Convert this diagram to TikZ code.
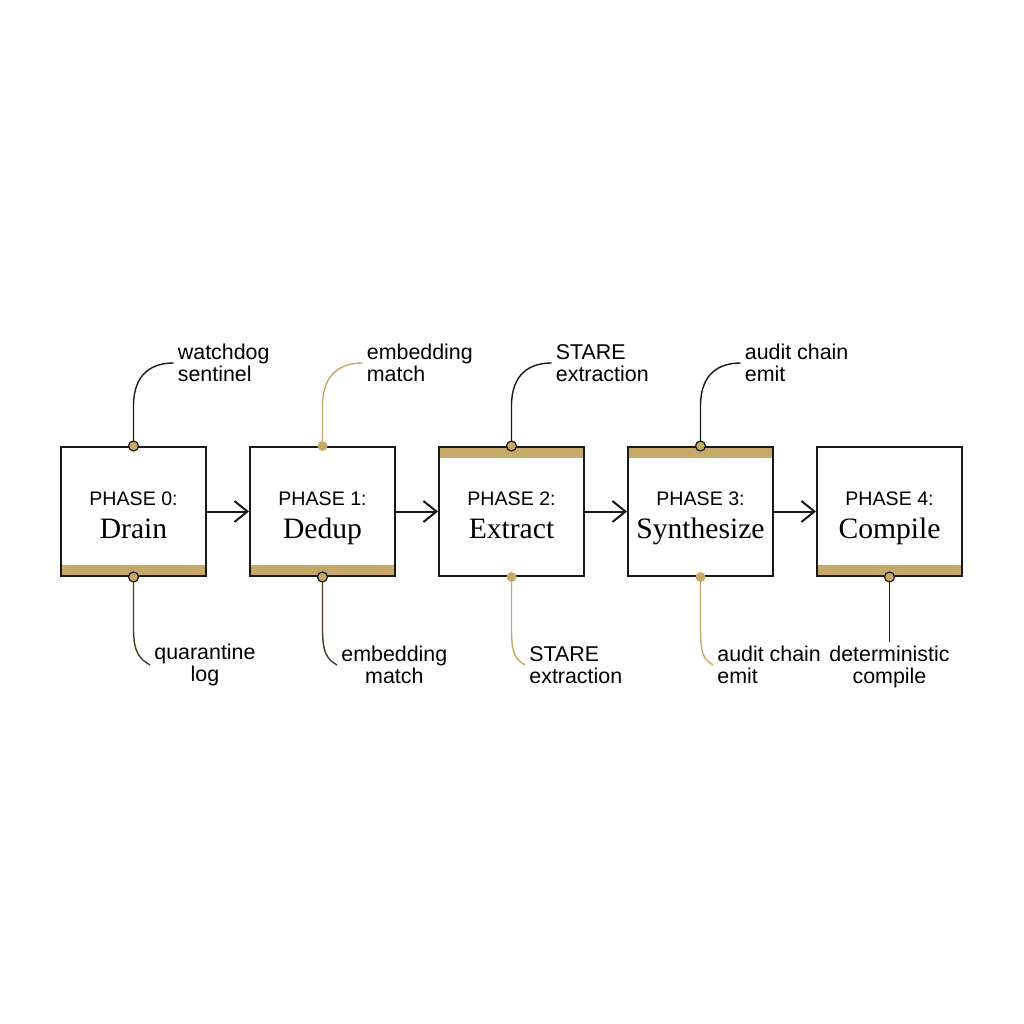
\documentclass[tikz,border=0pt]{standalone}
\usepackage{fontspec}
\setmainfont{Liberation Serif}
\setsansfont{Liberation Sans}
\usetikzlibrary{arrows.meta,calc}
\definecolor{gold}{RGB}{198,168,104}
\definecolor{ink}{RGB}{25,25,25}
\definecolor{dusk}{RGB}{70,60,40}
\newcommand{\phasetxt}[2]{{\sffamily\fontsize{9.8}{12}\selectfont\rule{0pt}{14.5pt}PHASE #1:}\\[4.5pt]{\fontsize{14.8}{15}\selectfont\strut #2}}
\tikzset{
  phase/.style={draw=ink, line width=1pt, fill=white, minimum width=72.5pt, minimum height=64.5pt, align=center, inner sep=0pt},
  topband/.style={path picture={\fill[gold] (path picture bounding box.north west) rectangle ([yshift=-5.5pt]path picture bounding box.north east);}},
  botband/.style={path picture={\fill[gold] (path picture bounding box.south west) rectangle ([yshift=5.5pt]path picture bounding box.south east);}},
  ringdot/.style={circle, draw=ink, fill=gold, line width=0.6pt, minimum size=5pt, inner sep=0pt},
  golddot/.style={circle, fill=gold, minimum size=5pt, inner sep=0pt},
  note/.style={font=\sffamily\fontsize{10.7}{11}\selectfont, inner sep=2pt},
  lead/.style={line width=0.7pt},
  arr/.style={line width=1pt, draw=ink, -{Straight Barb[length=6.5pt,width=10.5pt,line width=1pt]}}
}
\begin{document}
\begin{tikzpicture}[x=0.5pt, y=-0.5pt]
\useasboundingbox (0,0) rectangle (1024,1024);
% phase boxes
\node[phase,topband,botband] (b0) at (133.5,511.5) {\phasetxt{0}{Drain}};
\node[phase,botband]         (b1) at (322.5,511.5) {\phasetxt{1}{Dedup}};
\node[phase,topband]         (b2) at (511.5,511.5) {\phasetxt{2}{Extract}};
\node[phase,topband]         (b3) at (700.5,511.5) {\phasetxt{3}{Synthesize}};
\node[phase,botband]         (b4) at (889.5,511.5) {\phasetxt{4}{Compile}};
\draw[arr] (b0) -- (b1);
\draw[arr] (b1) -- (b2);
\draw[arr] (b2) -- (b3);
\draw[arr] (b3) -- (b4);
% top notes
\node[note, anchor=west, align=left] (t0) at ($(b0.north)+(40,-83)$) {watchdog\\sentinel};
\node[note, anchor=west, align=left] (t1) at ($(b1.north)+(40,-83)$) {embedding\\match};
\node[note, anchor=west, align=left] (t2) at ($(b2.north)+(40,-83)$) {STARE\\extraction};
\node[note, anchor=west, align=left] (t3) at ($(b3.north)+(40,-83)$) {audit chain\\emit};
\foreach \b/\t/\c in {b0/t0/ink, b1/t1/gold, b2/t2/ink, b3/t3/ink}
  \draw[lead, \c] (\b.north) -- ($(\b.north)+(0,-40)$) .. controls ($(\b.north)+(0,-72)$) and ($(\t.west)+(-22,0)$) .. (\t.west);
% bottom notes
\node[note, anchor=west, align=center] (d0) at ($(b0.south)+(16.5,88)$) {quarantine\\log};
\node[note, anchor=west, align=center] (d1) at ($(b1.south)+(14.5,88)$) {embedding\\match};
\node[note, anchor=west, align=left]   (d2) at ($(b2.south)+(13.5,88)$) {STARE\\extraction};
\node[note, anchor=west, align=left]   (d3) at ($(b3.south)+(12.5,88)$) {audit chain\\emit};
\node[note, anchor=north, align=center] (d4) at ($(b4.south)+(0,65)$) {deterministic\\compile};
\foreach \b/\d/\c in {b0/d0/dusk, b1/d1/dusk, b2/d2/gold, b3/d3/gold}
  \draw[lead, \c] (\b.south) -- ($(\b.south)+(0,52)$) .. controls ($(\b.south)+(0,76)$) and ($(\d.west)+(-10,-6)$) .. (\d.west);
\draw[lead, ink] (b4.south) -- (d4.north);
% dots
\node[ringdot] (p0) at (b0.north) {};
\node[ringdot] (q0) at (b0.south) {};
\node[golddot] (p1) at (b1.north) {};
\node[ringdot] (q1) at (b1.south) {};
\node[ringdot] (p2) at (b2.north) {};
\node[golddot] (q2) at (b2.south) {};
\node[ringdot] (p3) at (b3.north) {};
\node[golddot] (q3) at (b3.south) {};
\node[ringdot] (q4) at (b4.south) {};
\end{tikzpicture}
\end{document}
